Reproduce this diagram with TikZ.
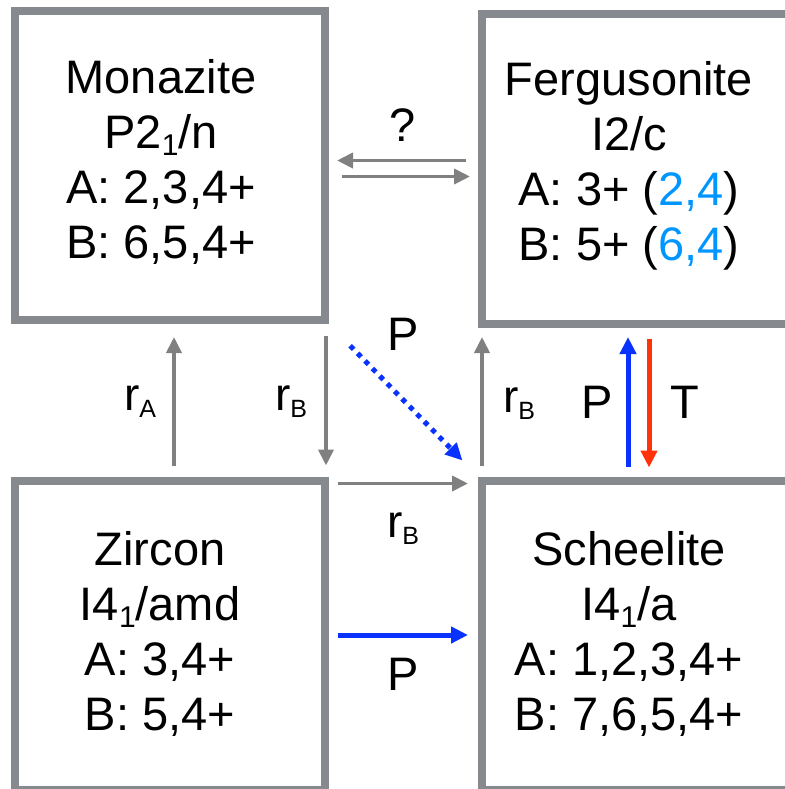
\documentclass[tikz,border=0pt]{standalone}
\usepackage{fontspec}
\setmainfont{Liberation Sans}
\usetikzlibrary{arrows.meta}
\definecolor{boxgray}{RGB}{134,137,141}
\definecolor{arrgray}{RGB}{128,128,128}
\definecolor{pblue}{RGB}{10,50,255}
\definecolor{tred}{RGB}{255,50,10}
\definecolor{lblue}{RGB}{0,150,255}
\newcommand{\boxsub}[1]{\raisebox{-7pt}{\fontsize{30}{30}\selectfont #1}}
\newcommand{\labsub}[1]{\raisebox{-7pt}{\fontsize{25}{25}\selectfont #1}}
\begin{document}
\begin{tikzpicture}[x=1pt,y=-1pt,
  phase/.style={draw=boxgray, line width=8pt, minimum width=310pt, minimum height=309pt, inner sep=0pt, outer sep=0pt},
  boxtext/.style={align=center, anchor=base, inner sep=0pt, font=\fontsize{47}{55}\selectfont},
  lab/.style={anchor=base, inner sep=0pt, font=\fontsize{47}{55}\selectfont},
  rlab/.style={anchor=base, inner sep=0pt, font=\fontsize{46}{50}\selectfont},
  garr/.style={draw=arrgray, line width=3.8pt, -{Triangle[length=16pt,width=15pt]}},
  barr/.style={draw=pblue, line width=5pt, -{Triangle[length=17pt,width=16pt]}},
  rarr/.style={draw=tred, line width=5pt, -{Triangle[length=17pt,width=16pt]}},
  dotarr/.style={draw=pblue, line width=5pt, dash pattern=on 5pt off 5.6pt, -{Triangle[length=17pt,width=16pt]}},
]
\useasboundingbox (0,0) rectangle (784,789);
\fill[white] (0,0) rectangle (784,789);

% phase boxes
\node[phase] (mon) at (170,165.5) {};
\node[phase] (fer) at (637,169) {};
\node[phase] (zir) at (170,635) {};
\node[phase] (sch) at (637,635) {};

% box texts (anchor base = last line baseline)
\node[boxtext] (montext) at (161,258) {Monazite\\P2\boxsub{1}/n\\A: 2,3,4+\\B: 6,5,4+};
\node[boxtext] (fertext) at (629,260) {Fergusonite\\I2/c\\A: 3+ (\textcolor{lblue}{2,4})\\B: 5+ (\textcolor{lblue}{6,4})};
\node[boxtext] (zirtext) at (160,730) {Zircon\\I4\boxsub{1}/amd\\A: 3,4+\\B: 5,4+};
\node[boxtext] (schtext) at (629,730) {Scheelite\\I4\boxsub{1}/a\\A: 1,2,3,4+\\B: 7,6,5,4+};

% arrows between monazite and fergusonite
\draw[garr, shorten <=16pt, shorten >=12pt] ([yshift=8.5pt]fer.west) -- ([yshift=8.5pt]fer.west -| mon.east);
\draw[garr, shorten <=17pt, shorten >=12pt] ([yshift=-11pt]mon.east) -- ([yshift=-11pt]mon.east -| fer.west);

% vertical arrows
\draw[garr, shorten <=15pt, shorten >=17pt] ([xshift=4pt]zir.north) -- ([xshift=4pt]mon.south);
\draw[garr, shorten <=16pt, shorten >=15pt] ([xshift=1pt]mon.south east) -- ([xshift=1pt]zir.north east);
\draw[garr, shorten <=15pt, shorten >=13.5pt] (sch.north west) -- (sch.north west |- fer.south);
\draw[barr, shorten <=14pt, shorten >=13.5pt] ([xshift=-9pt]sch.north) -- ([xshift=-9pt]sch.north |- fer.south);
\draw[rarr, shorten <=15pt, shorten >=13pt] ([xshift=12pt]fer.south) -- ([xshift=12pt]fer.south |- sch.north);

% horizontal arrows zircon -> scheelite
\draw[garr, shorten <=13pt, shorten >=14pt] ([yshift=-3pt]zir.north east) -- ([yshift=-3pt]zir.north east -| sch.west);
\draw[barr, shorten <=13pt, shorten >=14pt] (zir.east) -- (sch.west);

% diagonal dotted arrow
\draw[dotarr, shorten <=36pt, shorten >=28pt] (mon.south east) -- (sch.north west);

% labels
\node[lab] (q) at (403,141) {?};
\node[lab] (ptop) at (403,350) {P};
\node[rlab] (ra) at (140,410) {r\labsub{A}};
\node[rlab] (rb1) at (291,410) {r\labsub{B}};
\node[rlab] (rb2) at (519,412) {r\labsub{B}};
\node[lab] (pv) at (597,418) {P};
\node[lab] (tv) at (685,418) {T};
\node[rlab] (rb3) at (403,537) {r\labsub{B}};
\node[lab] (ph) at (403,690) {P};
\end{tikzpicture}
\end{document}
